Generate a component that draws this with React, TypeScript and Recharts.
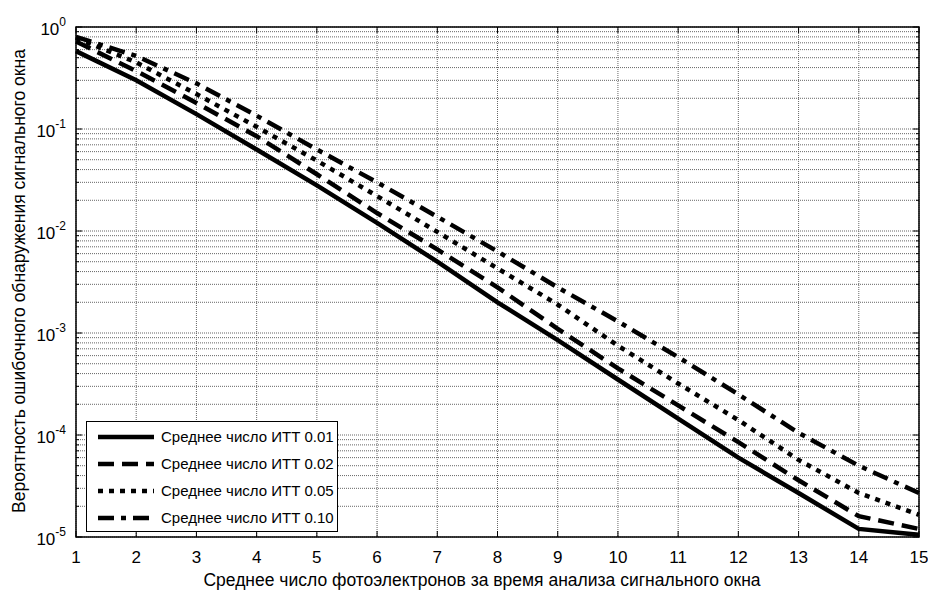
import React from "react";
import { LineChart, Line, XAxis, YAxis, CartesianGrid, Legend, ReferenceArea, Label } from "recharts";

// Среднее число фотоэлектронов
const photoelectrons = [1, 2, 3, 4, 5, 6, 7, 8, 9, 10, 11, 12, 13, 14, 15];
const itt001 = [0.58, 0.3, 0.14, 0.063, 0.028, 0.012, 0.005, 0.002, 8.5e-4, 3.5e-4, 1.45e-4, 6e-5, 2.7e-5, 1.2e-5, 1.05e-5];
const itt002 = [0.72, 0.37, 0.18, 0.085, 0.036, 0.015, 0.0066, 0.0028, 0.0011, 4.5e-4, 1.95e-4, 8.5e-5, 3.6e-5, 1.6e-5, 1.2e-5];
const itt005 = [0.78, 0.45, 0.22, 0.105, 0.049, 0.022, 0.0098, 0.0043, 0.0019, 7.5e-4, 3.2e-4, 1.4e-4, 5.7e-5, 2.7e-5, 1.65e-5];
const itt010 = [0.8, 0.52, 0.28, 0.135, 0.063, 0.03, 0.0138, 0.0063, 0.0028, 0.0013, 5.8e-4, 2.5e-4, 1.05e-4, 5e-5, 2.7e-5];

const decades = [1e-5, 1e-4, 1e-3, 1e-2, 1e-1, 1];
const minorSteps = [1, 2, 3, 4, 5, 6, 7, 8, 9];
const xMinorTicks = [1.5, 2.5, 3.5, 4.5, 5.5, 6.5, 7.5, 8.5, 9.5, 10.5, 11.5, 12.5, 13.5, 14.5];

const seriesNames = [
  "Среднее число ИТТ 0.01",
  "Среднее число ИТТ 0.02",
  "Среднее число ИТТ 0.05",
  "Среднее число ИТТ 0.10",
];

const data = photoelectrons.map((x, i) => ({
  x,
  s1: itt001[i],
  s2: itt002[i],
  s3: itt005[i],
  s4: itt010[i],
}));

const yTicks: number[] = [];
decades.forEach((d, i) => {
  if (i === decades.length - 1) yTicks.push(d);
  else minorSteps.forEach((m) => yTicks.push(d * m));
});

// plot box
const L = 76;
const R = 919;
const T = 27;
const B = 537;

const FONT = "'Liberation Sans', Arial, sans-serif";
const LW = 4.5;
const dashes = ["0", "16 8", "5 6", "16 7 5 7"];

const isDecade = (v: number) => {
  const l = Math.log10(v);
  return Math.abs(l - Math.round(l)) < 1e-6;
};

const YTick = (props: any) => {
  const { y, payload } = props;
  const v = payload.value;
  const major = isDecade(v);
  const len = major ? 6 : 3;
  return (
    <g>
      <line x1={L} x2={L + len} y1={y} y2={y} stroke="#000" />
      <line x1={R - len} x2={R} y1={y} y2={y} stroke="#000" />
      {major && (
        <text x={66} y={y + 8} textAnchor="end" fontFamily={FONT} fontSize={17} fill="#000">
          <tspan>10</tspan>
          <tspan dy={-9} fontSize={12}>{String(Math.round(Math.log10(v)))}</tspan>
        </text>
      )}
    </g>
  );
};

const XTick = (props: any) => {
  const { x, payload } = props;
  return (
    <g>
      <line x1={x} x2={x} y1={B} y2={B - 6} stroke="#000" />
      <line x1={x} x2={x} y1={T} y2={T + 6} stroke="#000" />
      <text x={x} y={563} textAnchor="middle" fontFamily={FONT} fontSize={17} fill="#000">
        {payload.value}
      </text>
    </g>
  );
};

const XMinorTick = (props: any) => {
  const { x } = props;
  return (
    <g>
      <line x1={x} x2={x} y1={B} y2={B - 3} stroke="#000" />
      <line x1={x} x2={x} y1={T} y2={T + 3} stroke="#000" />
    </g>
  );
};

const LegendBox = () => (
  <div
    style={{
      width: 250,
      height: 108,
      border: "1px solid #000",
      background: "#fff",
      fontFamily: FONT,
      fontSize: 15,
      color: "#000",
      boxSizing: "content-box",
      paddingTop: 1,
    }}
  >
    {seriesNames.map((name, i) => (
      <div key={name} style={{ display: "flex", alignItems: "center", height: 27 }}>
        <svg width={74} height={10} style={{ display: "block" }}>
          <line x1={11} x2={67} y1={5} y2={5} stroke="#000" strokeWidth={LW} strokeDasharray={dashes[i]} />
        </svg>
        <span style={{ lineHeight: "15px" }}>{name}</span>
      </div>
    ))}
  </div>
);

export default function App() {
  return (
    <div style={{ position: "absolute", left: 0, top: 0, width: 928, height: 590, background: "#fff" }}>
      <LineChart width={928} height={590} data={data} margin={{ top: T, right: 928 - R, bottom: 0, left: 0 }}>
        <CartesianGrid xAxisId="b" stroke="#666" strokeDasharray="1 1" />
        <XAxis
          xAxisId="b"
          dataKey="x"
          type="number"
          domain={[1, 15]}
          ticks={photoelectrons}
          interval={0}
          height={590 - B}
          axisLine={false}
          tickLine={false}
          tickSize={0}
          tick={<XTick />}
        >
          <Label
            content={() => (
              <text x={482} y={586} textAnchor="middle" fontFamily={FONT} fontSize={17.5} fill="#000">
                Среднее число фотоэлектронов за время анализа сигнального окна
              </text>
            )}
          />
        </XAxis>
        <XAxis
          xAxisId="m"
          dataKey="x"
          type="number"
          domain={[1, 15]}
          ticks={xMinorTicks}
          interval={0}
          height={0}
          axisLine={false}
          tickLine={false}
          tick={<XMinorTick />}
        />
        <YAxis
          scale="log"
          type="number"
          domain={[1e-5, 1]}
          allowDataOverflow
          ticks={yTicks}
          interval={0}
          width={L}
          axisLine={false}
          tickLine={false}
          tickSize={0}
          tick={<YTick />}
        >
          <Label
            content={() => {
              const cx = 19;
              const cy = (T + B) / 2 - 1;
              return (
                <text
                  x={cx}
                  y={cy}
                  transform={`rotate(-90 ${cx} ${cy})`}
                  textAnchor="middle"
                  dominantBaseline="central"
                  fontFamily={FONT}
                  fontSize={17.5}
                  fill="#000"
                >
                  Вероятность ошибочного обнаружения сигнального окна
                </text>
              );
            }}
          />
        </YAxis>
        {["s1", "s2", "s3", "s4"].map((k, i) => (
          <Line
            key={k}
            xAxisId="b"
            dataKey={k}
            name={seriesNames[i]}
            stroke="#000"
            strokeWidth={LW}
            strokeDasharray={dashes[i]}
            dot={false}
            activeDot={false}
            isAnimationActive={false}
          />
        ))}
        <ReferenceArea xAxisId="b" x1={1} x2={15} y1={1e-5} y2={1} fill="none" stroke="#000" strokeWidth={1.5} />
        <Legend
          layout="vertical"
          align="center"
          verticalAlign="middle"
          wrapperStyle={{ left: 86, top: 421, width: 252 }}
          content={<LegendBox />}
        />
      </LineChart>
    </div>
  );
}
